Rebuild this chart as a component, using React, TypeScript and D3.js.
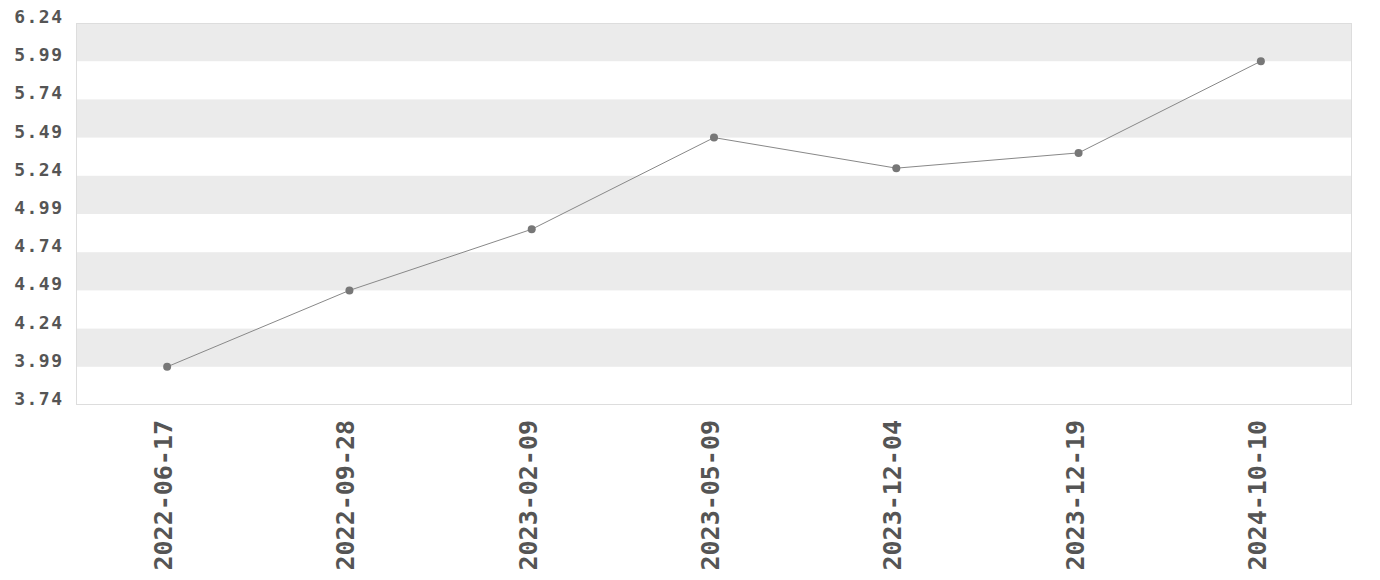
import React from "react";
import * as d3 from "d3";

const categories: string[] = ["2022-06-17", "2022-09-28", "2023-02-09", "2023-05-09", "2023-12-04", "2023-12-19", "2024-10-10"];
const values: number[] = [3.99, 4.49, 4.89, 5.49, 5.29, 5.39, 5.99];
const yTicks: number[] = [3.74, 3.99, 4.24, 4.49, 4.74, 4.99, 5.24, 5.49, 5.74, 5.99, 6.24];

const W = 1380;
const H = 580;
const M = { left: 76, right: 28, top: 23, bottom: 175 };

export default function App() {
  const x = d3.scaleBand<string>().domain(categories).range([M.left, W - M.right]).padding(0);
  const y = d3.scaleLinear().domain([3.74, 6.24]).range([H - M.bottom, M.top]);
  const line = d3
    .line<number>()
    .x((_, i) => (x(categories[i]) as number) + x.bandwidth() / 2)
    .y((d) => y(d));
  const bands = yTicks.slice(0, -1).map((t, i) => ({ lo: t, hi: yTicks[i + 1], i }));
  return (
    <svg width={W} height={H} style={{ position: "absolute", left: 0, top: 0 }}>
      {bands.map((b) =>
        (yTicks.length - 2 - b.i) % 2 === 0 ? (
          <rect key={b.i} x={M.left} width={W - M.right - M.left} y={y(b.hi)} height={y(b.lo) - y(b.hi)} fill="#ebebeb" />
        ) : null
      )}
      <rect x={M.left + 0.5} y={M.top + 0.5} width={W - M.right - M.left - 1} height={H - M.bottom - M.top - 1} fill="none" stroke="#dddddd" strokeWidth={1} />
      {yTicks.map((t) => (
        <text
          key={t}
          x={63.5}
          y={y(t)}
          textAnchor="end"
          fontFamily="'DejaVu Sans Mono', monospace"
          fontWeight="bold"
          fontSize={18}
          letterSpacing={1.5}
          fill="#555"
        >
          {t.toFixed(2)}
        </text>
      ))}
      <path d={line(values) || ""} fill="none" stroke="#888" strokeWidth={1} />
      {values.map((v, i) => (
        <circle key={i} cx={(x(categories[i]) as number) + x.bandwidth() / 2} cy={y(v)} r={4} fill="#777" />
      ))}
      {categories.map((c) => {
        const cx = (x(c) as number) + x.bandwidth() / 2;
        return (
          <text
            key={c}
            transform={`translate(${cx + 5},${H - M.bottom + 15}) rotate(-90)`}
            textAnchor="end"
            fontFamily="'DejaVu Sans Mono', monospace"
            fontWeight="bold"
            fontSize={25}
            fill="#555"
          >
            {c}
          </text>
        );
      })}
    </svg>
  );
}
